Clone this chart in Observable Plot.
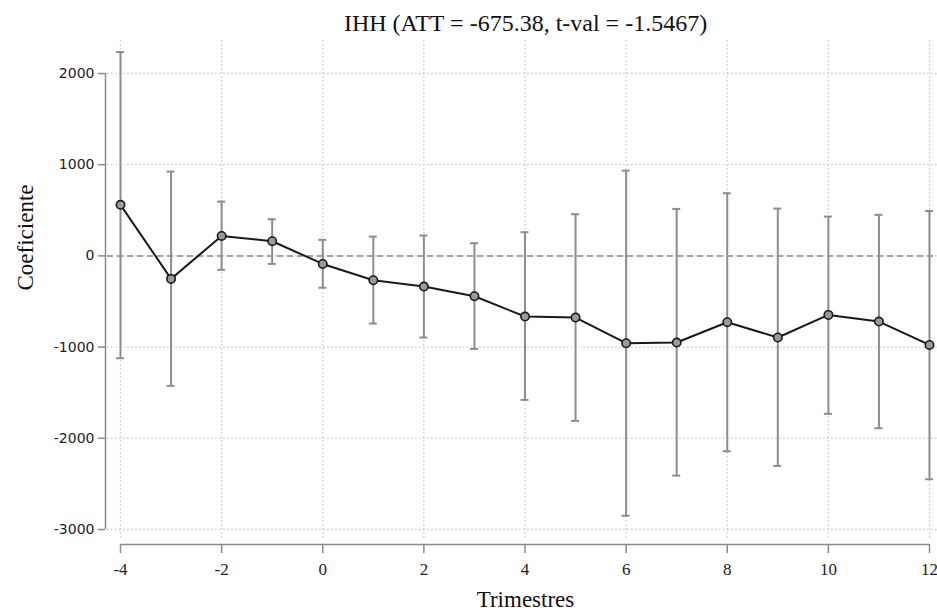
<!DOCTYPE html>
<html>
<head>
<meta charset="utf-8">
<script src="https://cdn.jsdelivr.net/npm/d3@7"></script>
<script src="https://cdn.jsdelivr.net/npm/@observablehq/plot@0.6"></script>
<style>
  html, body { margin: 0; padding: 0; background: #fff; }
</style>
</head>
<body>
<div id="chart"></div>
<script>
const titleText = "IHH (ATT = -675.38, t-val = -1.5467)";
const xLabel = "Trimestres";
const yLabel = "Coeficiente";
const quarters = [-4, -3, -2, -1, 0, 1, 2, 3, 4, 5, 6, 7, 8, 9, 10, 11, 12];
const coef =   [560, -252, 219, 161, -88, -267, -336, -442, -665, -676, -957, -950, -727, -895, -647, -720, -976];
const ciLow =  [-1122, -1425, -153, -88, -349, -742, -895, -1020, -1579, -1809, -2849, -2409, -2142, -2303, -1732, -1890, -2449];
const ciHigh = [2235, 924, 595, 402, 176, 212, 223, 139, 260, 457, 935, 515, 687, 519, 431, 450, 493];
const xTicks = [-4, -2, 0, 2, 4, 6, 8, 10, 12];
const yTicks = [-3000, -2000, -1000, 0, 1000, 2000];

const data = quarters.map((q, i) => ({x: q, y: coef[i], lo: ciLow[i], hi: ciHigh[i]}));

const serif = "'Liberation Serif', 'Times New Roman', serif";
const gridStyle = {stroke: "#c8c8c8", strokeOpacity: 1, strokeWidth: 1.3, strokeDasharray: "1.5,2.5"};
const plainFmt = d => String(d);

const chart = Plot.plot({
  width: 937,
  height: 612,
  marginLeft: 107,
  marginRight: 0,
  marginTop: 40,
  marginBottom: 72,
  style: {fontFamily: serif, background: "#fff", overflow: "visible"},
  x: {domain: [-4, 12], insetLeft: 13, insetRight: 8},
  y: {domain: [-3000, 2000], insetTop: 33, insetBottom: 11},
  marks: [
    Plot.gridX({ticks: xTicks, ...gridStyle}),
    Plot.gridY({ticks: yTicks, ...gridStyle}),
    Plot.ruleY([0], {stroke: "#8a8a8a", strokeWidth: 1.5, strokeDasharray: "6,4"}),
    // axis lines
    Plot.ruleX([xTicks[0]], {y1: yTicks[0], y2: yTicks[yTicks.length - 1], dx: -15, stroke: "#8c8c8c", strokeWidth: 1.5}),
    Plot.ruleY([yTicks[0]], {x1: xTicks[0], x2: xTicks[xTicks.length - 1], dy: 15, stroke: "#8c8c8c", strokeWidth: 1.5}),
    Plot.axisY({ticks: yTicks, tickFormat: plainFmt, dx: -2, tickSize: 7, tickPadding: 4, label: null,
      fontFamily: "'DejaVu Sans', sans-serif", fontSize: 14, stroke: "#8c8c8c", fill: "#222", strokeWidth: 1.5}),
    Plot.axisX({ticks: xTicks, tickFormat: plainFmt, dy: 4, tickSize: 9, tickPadding: 9, label: null,
      fontFamily: serif, fontSize: 17, stroke: "#8c8c8c", fill: "#222", strokeWidth: 1.5}),
    // error bars
    Plot.ruleX(data, {x: "x", y1: "lo", y2: "hi", stroke: "#8d8d8d", strokeWidth: 2}),
    Plot.ruleY(data, {x1: "x", x2: "x", y: "lo", insetLeft: -4, insetRight: -4, stroke: "#8d8d8d", strokeWidth: 2}),
    Plot.ruleY(data, {x1: "x", x2: "x", y: "hi", insetLeft: -4, insetRight: -4, stroke: "#8d8d8d", strokeWidth: 2}),
    Plot.line(data, {x: "x", y: "y", stroke: "#1a1a1a", strokeWidth: 2}),
    Plot.dot(data, {x: "x", y: "y", r: 4.2, fill: "#9a9a9a", stroke: "#1a1a1a", strokeWidth: 1.6}),
    // texts
    Plot.text([titleText], {frameAnchor: "top", lineAnchor: "middle", dy: -17, dx: 3, fontSize: 24, fontFamily: serif, fill: "#111"}),
    Plot.text([yLabel], {frameAnchor: "left", lineAnchor: "middle", dx: -82, rotate: -90, fontSize: 23, fontFamily: serif, fill: "#111"}),
    Plot.text([xLabel], {frameAnchor: "bottom", lineAnchor: "middle", dy: 59, dx: 3, fontSize: 23, fontFamily: serif, fill: "#111"})
  ]
});
document.getElementById("chart").appendChild(chart);
</script>
</body>
</html>
